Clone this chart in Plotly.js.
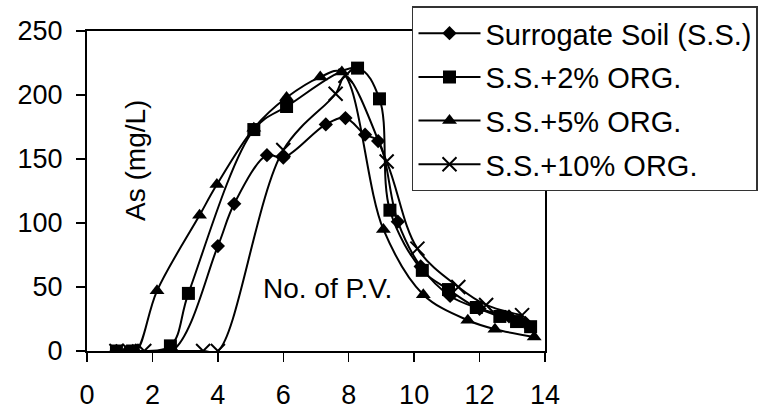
<!DOCTYPE html>
<html>
<head>
<meta charset="utf-8">
<script src="https://cdn.plot.ly/plotly-3.0.1.min.js"></script>
<style>html,body{margin:0;padding:0;background:#fff;}#chart{width:760px;height:413px;}</style>
</head>
<body>
<div id="chart"></div>
<script>
// Data
const seriesNames = ["Surrogate Soil (S.S.)", "S.S.+2% ORG.", "S.S.+5% ORG.", "S.S.+10% ORG."];

const ssX = [0.9, 1.4, 2.6, 4.0, 4.5, 5.5, 6.0, 7.3, 7.9, 8.5, 8.9, 9.5, 10.2, 11.1, 12.0, 12.9, 13.4];
const ssY = [0, 0, 0, 82, 115, 153, 151, 177, 182, 169, 164, 101, 66, 43, 33, 27, 22];

const org2X = [0.9, 1.4, 2.55, 3.1, 5.1, 6.1, 8.27, 8.94, 9.26, 10.25, 11.05, 11.9, 12.62, 13.13, 13.56];
const org2Y = [0, 0, 4, 45, 173, 191, 221, 197, 110, 63, 48, 34, 27, 23, 19];

const org5X = [0.9, 1.2, 1.5, 2.14, 3.44, 3.97, 5.1, 6.1, 7.13, 7.79, 9.06, 10.28, 11.64, 12.47, 13.67];
const org5Y = [0, 0, 0, 47, 106, 130, 174, 198, 214, 218, 95, 44, 24, 17, 11];

const org10X = [0.9, 1.3, 1.75, 3.55, 4.0, 6.0, 7.6, 7.9, 9.16, 10.1, 11.35, 12.2, 13.3];
const org10Y = [0, 0, 0, 0, 0, 157, 201, 215, 148, 80, 50, 36, 28];

const xTicks = [0, 2, 4, 6, 8, 10, 12, 14];
const yTicks = [0, 50, 100, 150, 200, 250];

const FONT = "Liberation Sans, Arial, Helvetica, sans-serif";
const lineStyle = {color: "black", width: 2, shape: "spline", smoothing: 1};

const traces = [
  {x: ssX, y: ssY, name: seriesNames[0], legendgroup: "a", mode: "lines+markers", line: lineStyle,
   marker: {symbol: "diamond", size: 11, color: "black"}},
  {x: org2X, y: org2Y, name: seriesNames[1], legendgroup: "b", mode: "lines+markers", line: lineStyle,
   marker: {symbol: "square", size: 13, color: "black"}},
  {x: org5X, y: org5Y, name: seriesNames[2], legendgroup: "c", mode: "lines+markers", line: lineStyle,
   marker: {symbol: "triangle-up", size: 13, color: "black"}},
  {x: org10X, y: org10Y, name: seriesNames[3], legendgroup: "d", mode: "lines+markers", line: lineStyle,
   marker: {symbol: "x-thin-open", size: 14, color: "black", line: {color: "black", width: 2}}}
];

const axisCommon = {
  showgrid: false, zeroline: false, showline: true, linecolor: "black", linewidth: 2,
  mirror: true, ticks: "outside", ticklen: 9, tickwidth: 1.5, tickcolor: "black",
  tickfont: {family: FONT, size: 27, color: "black"}
};

const layout = {
  width: 760, height: 413,
  margin: {l: 87, r: 215, t: 31, b: 62, autoexpand: false},
  paper_bgcolor: "white", plot_bgcolor: "white",
  font: {family: FONT, color: "black"},
  showlegend: true,
  xaxis: Object.assign({}, axisCommon, {range: [0, 14], tickvals: xTicks, ticktext: xTicks.map(String), ticklabelstandoff: 10}),
  yaxis: Object.assign({}, axisCommon, {range: [0, 250], tickvals: yTicks, ticktext: yTicks.map(String), ticklabelstandoff: 8}),
  legend: {
    x: 0.7096, y: 1.077, xanchor: "left", yanchor: "top",
    bgcolor: "white", bordercolor: "#333", borderwidth: 1.5,
    font: {family: FONT, size: 29, color: "black"},
    itemwidth: 62, tracegroupgap: 3
  },
  annotations: [
    {text: "As (mg/L)", xref: "paper", yref: "paper", x: 0.068, y: 0.596, showarrow: false,
     textangle: -90, font: {family: FONT, size: 28, color: "black"}},
    {text: "No. of P.V.", xref: "paper", yref: "paper", x: 0.525, y: 0.14, showarrow: false,
     font: {family: FONT, size: 28, color: "black"}}
  ]
};

Plotly.newPlot("chart", traces, layout, {displayModeBar: false, staticPlot: true});
</script>
</body>
</html>
